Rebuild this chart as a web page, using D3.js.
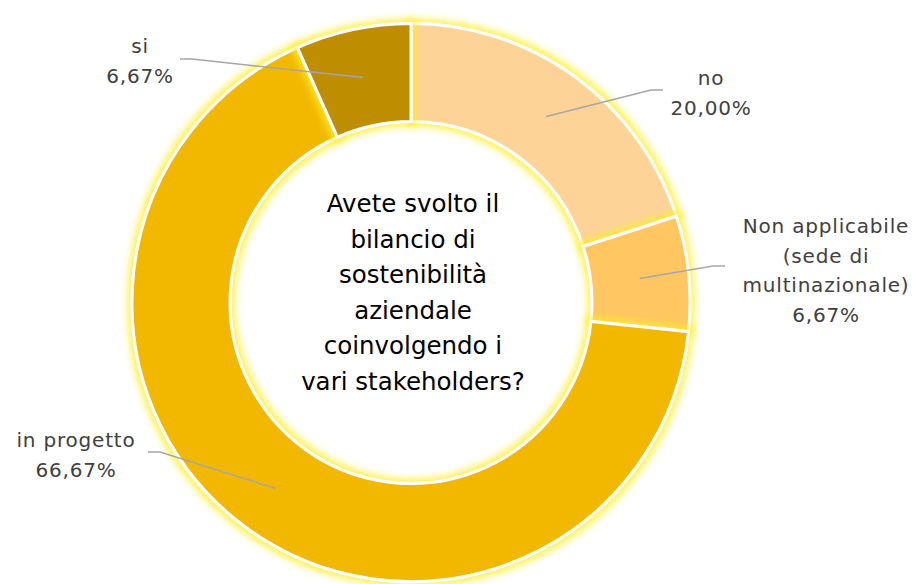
<!DOCTYPE html>
<head>
    <meta charset="utf-8">
    <title>Bilancio di sostenibilità</title>
    <script src="https://d3js.org/d3.v7.min.js"></script>
</head>
<style>
body {
  margin: 0;
  background: #fff;
  font-family: "DejaVu Sans", "Noto Sans", Arial, sans-serif;
}
</style>
<body>
    <svg></svg>
</body>

<script>

    // Data
    var categories = ["no", "Non applicabile (sede di multinazionale)", "in progetto", "si"];
    var values = [20.00, 6.67, 66.67, 6.67];
    var labelLines = [
        ["no", "20,00%"],
        ["Non applicabile", "(sede di", "multinazionale)", "6,67%"],
        ["in progetto", "66,67%"],
        ["si", "6,67%"]
    ];
    var title = ["Avete svolto il", "bilancio di", "sostenibilità", "aziendale", "coinvolgendo i", "vari stakeholders?"];

    // Layout
    var width = 922;
    var height = 584;
    var cx = 411, cy = 302.5;
    var outerR = 279, innerR = 181;
    var colors = ["#FDD398", "#FFC662", "#F2B800", "#BE8D00"];
    // label anchor (text centre x, first baseline y) and leader end point (x, y, side)
    var labelPos = [
        { x: 711, y: 85, lx: 663, ly: 90, dir: -1 },
        { x: 826, y: 233, lx: 725, ly: 266, dir: -1 },
        { x: 76, y: 447, lx: 148, ly: 452, dir: 1 },
        { x: 140, y: 53, lx: 180, ly: 59, dir: 1 }
    ];
    var lineH = 29.5;

    var svg = d3.select('svg')
        .attr('width', width)
        .attr('height', height);

    // yellow glow round each slice
    var defs = svg.append('defs');
    var f = defs.append('filter').attr('id', 'glow')
        .attr('x', '-20%').attr('y', '-20%').attr('width', '140%').attr('height', '140%');
    f.append('feMorphology').attr('in', 'SourceAlpha').attr('operator', 'dilate').attr('radius', 3).attr('result', 'd');
    f.append('feGaussianBlur').attr('in', 'd').attr('stdDeviation', 3.5).attr('result', 'b');
    f.append('feFlood').attr('flood-color', '#FFEE22').attr('flood-opacity', 0.8);
    f.append('feComposite').attr('in2', 'b').attr('operator', 'in').attr('result', 'g');
    var m = f.append('feMerge');
    m.append('feMergeNode').attr('in', 'g');
    m.append('feMergeNode').attr('in', 'SourceGraphic');

    var g = svg.append('g')
        .attr('transform', 'translate(' + cx + ',' + cy + ')');

    var pie = d3.pie().sort(null).value(function (d) { return d; });
    var arcs = pie(values);
    var arc = d3.arc().innerRadius(innerR).outerRadius(outerR);

    g.selectAll('path.slice')
        .data(arcs)
        .enter().append('path')
        .attr('class', 'slice')
        .attr('d', arc)
        .attr('fill', function (d, i) { return colors[i]; })
        .attr('stroke', '#fff')
        .attr('stroke-width', 3)
        .attr('stroke-linejoin', 'miter')
        .attr('filter', 'url(#glow)');

    // leader lines: centroid -> elbow -> label end
    g.selectAll('path.leader')
        .data(arcs)
        .enter().append('path')
        .attr('class', 'leader')
        .attr('fill', 'none')
        .attr('stroke', '#A6A6A6')
        .attr('stroke-width', 1.5)
        .attr('d', function (d, i) {
            var c = arc.centroid(d);
            var p = labelPos[i];
            var ex = p.lx - cx, ey = p.ly - cy;
            return 'M' + c[0] + ',' + c[1] + 'L' + (ex + p.dir * 12) + ',' + ey + 'L' + ex + ',' + ey;
        });

    // data labels
    svg.selectAll('text.lab')
        .data(labelLines)
        .enter().append('text')
        .attr('class', 'lab')
        .attr('text-anchor', 'middle')
        .attr('fill', '#404040')
        .style('font-size', '20px')
        .style('letter-spacing', '0.8px')
        .each(function (lines, i) {
            var t = d3.select(this);
            lines.forEach(function (s, k) {
                t.append('tspan')
                    .attr('x', labelPos[i].x)
                    .attr('y', labelPos[i].y + k * lineH)
                    .text(s);
            });
        });

    // centre title
    svg.append('text')
        .attr('text-anchor', 'middle')
        .attr('fill', '#000')
        .style('font-size', '24.5px')
        .selectAll('tspan')
        .data(title)
        .enter().append('tspan')
        .attr('x', cx + 2)
        .attr('y', function (d, i) { return 212 + i * 35.6; })
        .text(function (d) { return d; });

</script>
